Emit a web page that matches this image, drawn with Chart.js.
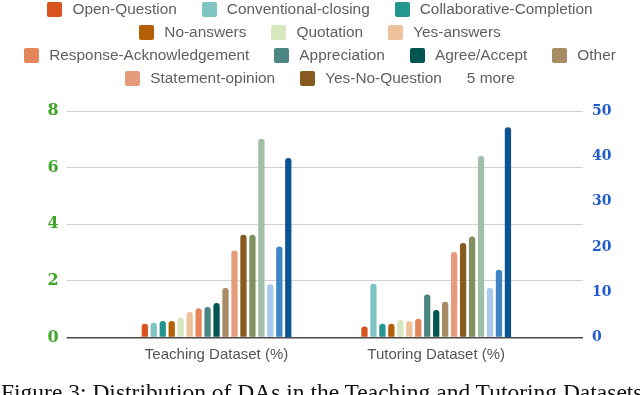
<!DOCTYPE html>
<html>
<head>
<meta charset="utf-8">
<script src="https://cdn.jsdelivr.net/npm/chart.js@4/dist/chart.umd.min.js"></script>
<style>
html,body{margin:0;padding:0;background:#fff;}
#wrap{position:relative;width:640px;height:395px;overflow:hidden;}
#cvbox{position:absolute;left:0;top:0;width:640px;height:395px;}
#legend{position:absolute;left:0;top:-2.5px;width:640px;font-family:"Liberation Sans",Arial,sans-serif;font-size:15.4px;color:#5f5f5f;}
.row{display:flex;justify-content:center;align-items:center;height:23px;}
.item{display:flex;align-items:center;margin:0 12.5px;white-space:nowrap;}
.box{width:15px;height:15px;border-radius:2px;margin-right:10px;}
#caption{position:absolute;left:1px;top:381px;font-family:"Liberation Serif","Times New Roman",serif;font-size:23.5px;line-height:23px;white-space:nowrap;color:#111;}
</style>
</head>
<body>
<div id="wrap">
  <div id="cvbox"><canvas id="c"></canvas></div>
  <div id="legend"></div>
  <div id="caption">Figure 3: Distribution of DAs in the Teaching and Tutoring Datasets</div>
</div>
<script>
// ---- data ----
const categories = ['Teaching Dataset (%)', 'Tutoring Dataset (%)'];
const actNames = [
  'Open-Question', 'Conventional-closing', 'Collaborative-Completion',
  'No-answers', 'Quotation', 'Yes-answers',
  'Response-Acknowledgement', 'Appreciation', 'Agree/Accept', 'Other',
  'Statement-opinion', 'Yes-No-Question',
  'Wh-Question', 'Acknowledge (Backchannel)', 'Declarative Yes-No-Question',
  'Abandoned or Turn-Exit', 'Statement-non-opinion'
];
const teaching = [0.49, 0.52, 0.58, 0.58, 0.71, 0.90, 1.03, 1.08, 1.22, 1.75, 3.07, 3.63, 3.63, 7.02, 1.88, 3.21, 39.6];
const tutoring = [0.39, 1.90, 0.49, 0.49, 0.62, 0.58, 0.66, 1.52, 0.97, 1.26, 3.02, 3.34, 3.57, 6.41, 1.75, 2.39, 46.4];
const rightAxisSeries = ['Statement-non-opinion'];
const leftTicks = [0, 2, 4, 6, 8];
const rightTicks = [0, 10, 20, 30, 40, 50];
const hiddenLegendText = '5 more';
const legendRows = [[0, 1, 2], [3, 4, 5], [6, 7, 8, 9], [10, 11]];

// ---- styles ----
const colors = [
  '#d9531e', '#7fc4c2', '#22968f', '#b45f06', '#d8e8be', '#eec39c',
  '#e6875b', '#4c8682', '#035650', '#a78b64', '#e59b7c', '#875b20',
  '#7f925f', '#a0bfa9', '#a7c9ed', '#3d85c6', '#0b5394'
];
const isZero = ctx => ctx.tick && ctx.tick.value === 0;
const gridColor = ctx => isZero(ctx) ? '#4a4a4a' : '#d2d2d2';
const gridWidth = ctx => isZero(ctx) ? 1.5 : 1;

const datasets = actNames.map((name, i) => ({
  label: name,
  data: [teaching[i], tutoring[i]],
  backgroundColor: colors[i],
  borderRadius: 3,
  borderSkipped: 'start',
  yAxisID: rightAxisSeries.includes(name) ? 'yR' : 'y',
  categoryPercentage: 0.694,
  barPercentage: 0.70
}));

new Chart(document.getElementById('c'), {
  type: 'bar',
  data: { labels: categories, datasets },
  options: {
    responsive: true,
    maintainAspectRatio: false,
    animation: false,
    layout: { padding: { left: 39.6, right: 19.5, top: 111, bottom: 23.5 } },
    plugins: { legend: { display: false }, tooltip: { enabled: false } },
    scales: {
      x: {
        offset: true,
        grid: { display: false, drawTicks: false },
        border: { display: false },
        ticks: { color: '#555', maxRotation: 0, padding: 8,
                 font: { family: '"Liberation Sans", Arial, sans-serif', size: 15 } }
      },
      y: {
        type: 'linear', axis: 'y', position: 'left', weight: 0,
        min: leftTicks[0], max: leftTicks[leftTicks.length - 1],
        ticks: { stepSize: leftTicks[1] - leftTicks[0], color: '#3fa62a', padding: 8,
                 font: { family: '"DejaVu Serif", serif', size: 16, weight: 'bold' } },
        grid: { color: gridColor, lineWidth: gridWidth, drawTicks: true, tickLength: 40 },
        border: { display: false }
      },
      yGrid: {
        type: 'linear', axis: 'y', position: 'right', weight: 0,
        min: leftTicks[0], max: leftTicks[leftTicks.length - 1],
        ticks: { display: false, stepSize: leftTicks[1] - leftTicks[0] },
        grid: { color: gridColor, lineWidth: gridWidth, drawOnChartArea: false, drawTicks: true, tickLength: 37 },
        border: { display: false }
      },
      yR: {
        type: 'linear', axis: 'y', position: 'right', weight: 1,
        min: rightTicks[0], max: rightTicks[rightTicks.length - 1],
        ticks: { stepSize: rightTicks[1] - rightTicks[0], color: '#1f5bcc', padding: 9,
                 font: { family: '"DejaVu Serif", serif', size: 14, weight: 'bold' } },
        grid: { display: false, drawTicks: false },
        border: { display: false }
      }
    }
  }
});

// ---- HTML legend built from the series ----
const legend = document.getElementById('legend');
legendRows.forEach((row, r) => {
  const rowEl = document.createElement('div');
  rowEl.className = 'row';
  row.forEach(i => {
    const it = document.createElement('div');
    it.className = 'item';
    const b = document.createElement('span');
    b.className = 'box';
    b.style.background = colors[i];
    const t = document.createElement('span');
    t.textContent = actNames[i];
    it.appendChild(b); it.appendChild(t);
    rowEl.appendChild(it);
  });
  if (r === legendRows.length - 1) {
    const more = document.createElement('div');
    more.className = 'item';
    more.textContent = hiddenLegendText;
    rowEl.appendChild(more);
  }
  legend.appendChild(rowEl);
});
</script>
</body>
</html>
